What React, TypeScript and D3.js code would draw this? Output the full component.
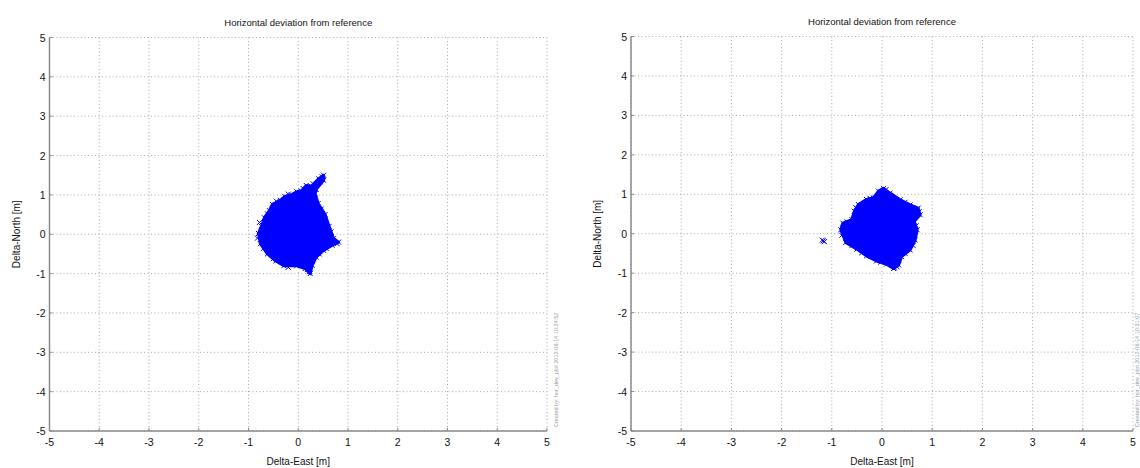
import React from "react";
import * as d3 from "d3";

const TICKS = [-5, -4, -3, -2, -1, 0, 1, 2, 3, 4, 5];
const TITLE = "Horizontal deviation from reference";
const XLABEL = "Delta-East [m]";
const YLABEL = "Delta-North [m]";

// Cluster outlines (east, north)
const leftCluster: [number, number][] = [
  [0.51, 1.5], [0.51, 1.37], [0.36, 1.14], [0.34, 1.03], [0.4, 0.78],
  [0.54, 0.5], [0.62, 0.2], [0.71, -0.11], [0.81, -0.2], [0.68, -0.28], [0.51, -0.41],
  [0.36, -0.58], [0.28, -0.79], [0.24, -1.0], [0.14, -0.87], [-0.03, -0.8], [-0.29, -0.8],
  [-0.45, -0.68], [-0.62, -0.5], [-0.76, -0.24], [-0.8, 0.02], [-0.74, 0.2], [-0.68, 0.42],
  [-0.58, 0.6], [-0.52, 0.76], [-0.36, 0.86], [-0.27, 0.96], [-0.14, 1.0], [-0.03, 1.08],
  [0.06, 1.1], [0.16, 1.24], [0.26, 1.22], [0.41, 1.41],
];
// scattered edge points (east, north)
const leftEdge: [number, number][] = [
  [0.48, 1.46], [0.44, 1.33], [0.3, 1.28], [0.46, 0.64], [0.66, 0.06], [0.78, -0.24],
  [0.56, -0.36], [0.42, -0.5], [0.22, -0.95], [0.18, -0.9], [-0.2, -0.84], [-0.5, -0.62],
  [-0.7, -0.36], [-0.82, -0.1], [-0.78, 0.3], [-0.62, 0.52], [-0.44, 0.84], [-0.2, 1.02],
  [0.1, 1.16],
];

const rightCluster: [number, number][] = [
  [0.03, 1.15], [0.16, 1.03], [0.36, 0.86], [0.56, 0.73], [0.72, 0.65], [0.76, 0.48],
  [0.64, 0.31], [0.7, 0.1], [0.66, -0.16], [0.56, -0.41], [0.39, -0.58], [0.33, -0.79],
  [0.23, -0.88], [0.09, -0.77], [-0.11, -0.69], [-0.31, -0.56], [-0.5, -0.39], [-0.72, -0.22],
  [-0.82, 0.1], [-0.78, 0.27], [-0.6, 0.36], [-0.55, 0.57], [-0.47, 0.74], [-0.31, 0.87],
  [-0.17, 0.91], [-0.07, 1.08],
];
const rightEdge: [number, number][] = [
  [-1.17, -0.18], [-1.15, -0.2], [-1.19, -0.16], [0.7, 0.62], [0.25, -0.87], [0.08, 1.12],
  [0.46, 0.8], [0.74, 0.56], [0.68, 0.2], [0.62, -0.3], [0.46, -0.5], [0.3, -0.84],
  [-0.02, -0.72], [-0.4, -0.48], [-0.6, -0.3], [-0.8, -0.04], [-0.7, 0.3], [-0.52, 0.66],
  [-0.24, 0.9],
];

const WATERMARK_LEFT = "Created by: hor_dev_plot  2012-06-14 10:24:52";
const WATERMARK_RIGHT = "Created by: hor_dev_plot  2012-06-14 10:31:07";

type PanelProps = {
  x0: number; x1: number; y0: number; y1: number;
  cluster: [number, number][]; edge: [number, number][];
  ylabelX: number; watermark: string; wmX: number;
};

function XMark({ cx, cy }: { cx: number; cy: number }) {
  const s = 2.5;
  return (
    <path d={`M${cx - s},${cy - s}L${cx + s},${cy + s}M${cx - s},${cy + s}L${cx + s},${cy - s}`}
      stroke="#0000ff" strokeWidth={1} fill="none" />
  );
}

function Panel({ x0, x1, y0, y1, cluster, edge, ylabelX, watermark, wmX }: PanelProps) {
  const x = d3.scaleLinear().domain([-5, 5]).range([x0, x1]);
  const y = d3.scaleLinear().domain([-5, 5]).range([y1, y0]);
  const line = d3.line<[number, number]>().x(d => x(d[0])).y(d => y(d[1])).curve(d3.curveLinearClosed);
  const cx = (x0 + x1) / 2;
  const cy = (y0 + y1) / 2;
  const font = "'Liberation Sans', Arial, sans-serif";
  return (
    <g fontFamily={font}>
      {TICKS.map(t => (
        <line key={"gx" + t} x1={x(t)} x2={x(t)} y1={y0} y2={y1} stroke="#ababab" strokeDasharray="1,2.5" strokeWidth={1} />
      ))}
      {TICKS.map(t => (
        <line key={"gy" + t} x1={x0} x2={x1} y1={y(t)} y2={y(t)} stroke="#ababab" strokeDasharray="1,2.5" strokeWidth={1} />
      ))}
      <path d={line(cluster) || ""} fill="#0000ff" stroke="#0000ff" strokeWidth={3} strokeLinejoin="round" />
      {cluster.map((p, i) => <XMark key={"c" + i} cx={x(p[0])} cy={y(p[1])} />)}
      {edge.map((p, i) => <XMark key={"o" + i} cx={x(p[0])} cy={y(p[1])} />)}
      <line x1={x0} x2={x0} y1={y0} y2={y1} stroke="#8a8a8a" strokeWidth={1.5} />
      <line x1={x0} x2={x1} y1={y1} y2={y1} stroke="#8a8a8a" strokeWidth={1.5} />
      {TICKS.map(t => (
        <line key={"tx" + t} x1={x(t)} x2={x(t)} y1={y1} y2={y1 - 3} stroke="#8a8a8a" strokeWidth={1} />
      ))}
      {TICKS.map(t => (
        <line key={"ty" + t} x1={x0} x2={x0 + 3} y1={y(t)} y2={y(t)} stroke="#8a8a8a" strokeWidth={1} />
      ))}
      {TICKS.map(t => (
        <text key={"lx" + t} x={x(t)} y={y1 + 15} textAnchor="middle" fontSize={10.5} fill="#111">{t}</text>
      ))}
      {TICKS.map(t => (
        <text key={"ly" + t} x={x0 - 4} y={y(t) + 4} textAnchor="end" fontSize={10.5} fill="#111">{t}</text>
      ))}
      <text x={cx} y={y0 - 12} textAnchor="middle" fontSize={9.5} fill="#111">{TITLE}</text>
      <text x={cx} y={y1 + 34} textAnchor="middle" fontSize={10} fill="#111">{XLABEL}</text>
      <text transform={`translate(${ylabelX},${cy}) rotate(-90)`} textAnchor="middle" fontSize={10} fill="#111">{YLABEL}</text>
      <text transform={`translate(${wmX},${y1 - 4}) rotate(-90)`} textAnchor="start" fontSize={5.5} fill="#9a9a9a">{watermark}</text>
    </g>
  );
}

export default function App() {
  return (
    <svg width={1140} height={468} style={{ position: "absolute", left: 0, top: 0, background: "#fff" }}>
      <rect x={0} y={0} width={1140} height={468} fill="#fff" />
      <Panel x0={49.5} x1={547} y0={37.5} y1={431} cluster={leftCluster} edge={leftEdge} ylabelX={20} watermark={WATERMARK_LEFT} wmX={558} />
      <Panel x0={631} x1={1133} y0={36.5} y1={431} cluster={rightCluster} edge={rightEdge} ylabelX={601} watermark={WATERMARK_RIGHT} wmX={1138.5} />
    </svg>
  );
}
